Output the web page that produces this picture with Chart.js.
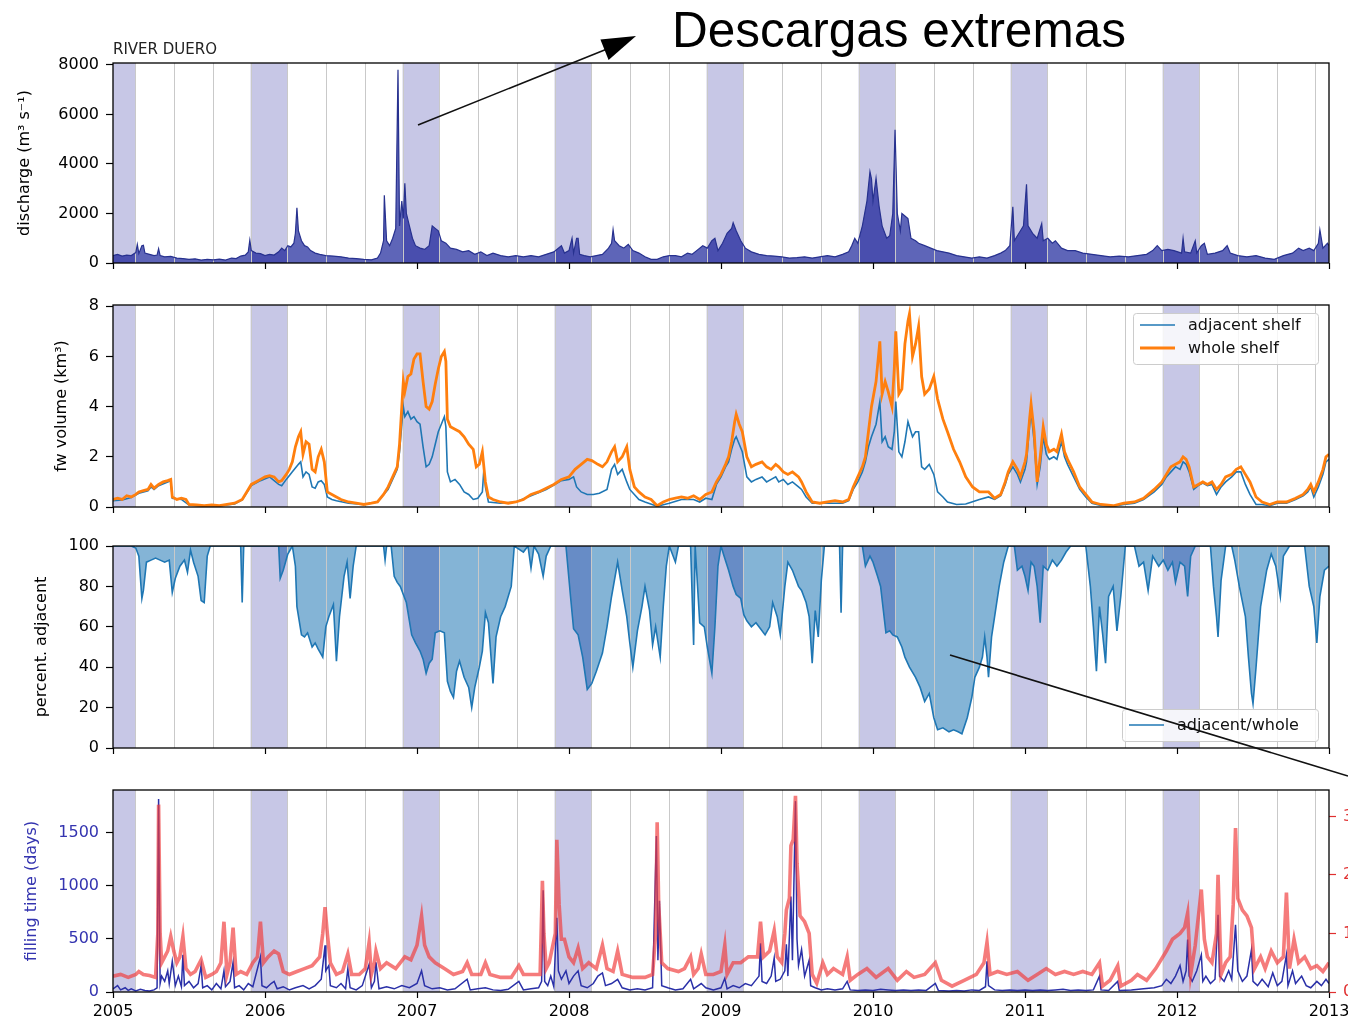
<!DOCTYPE html>
<html>
<head>
<meta charset="utf-8">
<title>River Duero – discharge and shelf freshwater</title>
<script src="https://cdn.jsdelivr.net/npm/chart.js@4.4.1/dist/chart.umd.min.js"></script>
<style>
  html, body { margin: 0; padding: 0; background: #fff; }
  #wrap { position: relative; width: 1348px; height: 1026px; overflow: hidden; background: #fff; }
  #wrap canvas { position: absolute; left: 0; }
  #overlay { position: absolute; left: 0; top: 0; pointer-events: none; }
</style>
</head>
<body>
<div id="wrap">
  <canvas id="cDischarge" width="1348" height="290" style="top:0px"></canvas>
  <canvas id="cVolume" width="1348" height="240" style="top:290px"></canvas>
  <canvas id="cPercent" width="1348" height="240" style="top:530px"></canvas>
  <canvas id="cFilling" width="1348" height="256" style="top:770px"></canvas>
  <svg id="overlay" width="1348" height="1026" xmlns="http://www.w3.org/2000/svg">
    <line x1="418" y1="125" x2="612" y2="47" stroke="#111" stroke-width="1.6"/>
    <polygon points="636,36 600.4,39.5 608.6,59.9" fill="#000"/>
    <line x1="950" y1="655" x2="1348" y2="776" stroke="#111" stroke-width="1.6"/>
    <text x="672" y="47" font-family="'Liberation Sans', Arial, sans-serif" font-size="49.5" fill="#000">Descargas extremas</text>
  </svg>
</div>
<script>
// ---------------------------------------------------------------------------
// Time axis (decimal years) and tick lists
// ---------------------------------------------------------------------------
const yearTicks = [2005, 2006, 2007, 2008, 2009, 2010, 2011, 2012, 2013];
const dischargeTicks = [0, 2000, 4000, 6000, 8000];
const volumeTicks = [0, 2, 4, 6, 8];
const percentTicks = [0, 20, 40, 60, 80, 100];
const fillingTicks = [0, 500, 1000, 1500];
const rateTicks = [0, 1, 2, 3];

// seasonal grid lines (fraction of year) and winter (DJF) shading
const seasonGridOffsets = [0.148, 0.40, 0.655, 0.905];
const winterBands = [
  [2004.905, 2005.148], [2005.905, 2006.148], [2006.905, 2007.148], [2007.905, 2008.148],
  [2008.905, 2009.148], [2009.905, 2010.148], [2010.905, 2011.148], [2011.905, 2012.148]
];

// ---------------------------------------------------------------------------
// River Duero discharge (m3 s-1)
// ---------------------------------------------------------------------------
const dischargeSeries = [
  [2005.00,300],[2005.03,350],[2005.06,280],[2005.09,320],[2005.12,300],[2005.15,420],[2005.16,750],[2005.17,380],
  [2005.19,700],[2005.20,720],[2005.21,400],[2005.24,350],[2005.27,300],[2005.29,320],[2005.30,580],[2005.31,300],
  [2005.34,250],[2005.38,270],[2005.42,200],[2005.46,180],[2005.50,150],[2005.54,170],[2005.58,120],[2005.62,150],
  [2005.66,130],[2005.70,160],[2005.74,120],[2005.78,200],[2005.81,180],[2005.84,280],[2005.87,320],[2005.89,450],
  [2005.90,920],[2005.91,500],[2005.94,400],[2005.97,380],[2006.00,300],[2006.03,350],[2006.06,320],[2006.09,450],
  [2006.11,600],[2006.13,500],[2006.15,700],[2006.17,650],[2006.19,800],[2006.20,1200],[2006.21,2230],[2006.22,1300],
  [2006.24,900],[2006.26,700],[2006.28,650],[2006.30,500],[2006.33,400],[2006.36,350],[2006.40,300],[2006.45,280],
  [2006.50,250],[2006.55,200],[2006.60,180],[2006.65,150],[2006.70,130],[2006.74,200],[2006.76,400],[2006.78,900],
  [2006.785,2740],[2006.80,900],[2006.82,700],[2006.84,1000],[2006.86,1400],[2006.875,7810],[2006.885,1500],[2006.90,2500],
  [2006.91,1800],[2006.92,3220],[2006.93,2000],[2006.95,1500],[2006.97,1000],[2006.99,700],[2007.02,600],[2007.05,550],
  [2007.08,700],[2007.10,1500],[2007.12,1400],[2007.14,1300],[2007.16,900],[2007.19,800],[2007.22,600],[2007.26,550],
  [2007.30,450],[2007.34,500],[2007.38,350],[2007.42,450],[2007.46,300],[2007.50,400],[2007.55,300],[2007.60,250],
  [2007.65,300],[2007.70,250],[2007.75,300],[2007.80,250],[2007.85,350],[2007.90,450],[2007.95,700],[2007.97,400],
  [2008.00,500],[2008.02,1000],[2008.03,400],[2008.05,1000],[2008.06,1000],[2008.07,350],[2008.10,300],[2008.14,250],
  [2008.18,300],[2008.22,350],[2008.26,600],[2008.28,800],[2008.29,1350],[2008.30,900],[2008.33,700],[2008.36,600],
  [2008.39,750],[2008.42,500],[2008.46,400],[2008.50,250],[2008.54,150],[2008.58,150],[2008.62,250],[2008.66,300],
  [2008.70,300],[2008.74,250],[2008.78,400],[2008.81,350],[2008.84,500],[2008.88,700],[2008.91,600],[2008.94,900],
  [2008.96,1000],[2008.98,500],[2009.01,800],[2009.04,1200],[2009.07,1400],[2009.08,1630],[2009.10,1300],[2009.13,900],
  [2009.16,600],[2009.20,450],[2009.25,350],[2009.30,300],[2009.35,280],[2009.40,250],[2009.45,200],[2009.50,220],
  [2009.55,250],[2009.60,200],[2009.65,250],[2009.70,300],[2009.75,250],[2009.80,350],[2009.84,450],[2009.86,700],
  [2009.88,1000],[2009.90,800],[2009.93,1500],[2009.96,2500],[2009.98,3690],[2009.99,3400],[2010.00,2500],[2010.02,3420],
  [2010.04,2300],[2010.06,1500],[2010.09,1000],[2010.11,1100],[2010.13,2000],[2010.145,5380],[2010.16,2000],[2010.18,1300],
  [2010.19,2000],[2010.21,1900],[2010.23,1800],[2010.25,1000],[2010.28,900],[2010.30,800],[2010.34,700],[2010.38,600],
  [2010.42,500],[2010.46,450],[2010.50,400],[2010.55,300],[2010.60,250],[2010.65,200],[2010.70,250],[2010.75,200],
  [2010.80,300],[2010.84,400],[2010.87,500],[2010.90,700],[2010.92,2270],[2010.93,900],[2010.96,1200],[2010.99,1500],
  [2011.01,3180],[2011.02,1500],[2011.05,1200],[2011.08,1000],[2011.11,1590],[2011.12,900],[2011.15,1000],[2011.18,800],
  [2011.20,900],[2011.24,600],[2011.28,500],[2011.33,500],[2011.38,400],[2011.44,350],[2011.50,300],[2011.56,250],
  [2011.62,280],[2011.68,250],[2011.74,300],[2011.80,350],[2011.84,500],[2011.87,700],[2011.90,500],[2011.94,550],
  [2011.98,500],[2012.03,400],[2012.04,1000],[2012.05,450],[2012.09,400],[2012.12,900],[2012.13,400],[2012.16,700],
  [2012.18,800],[2012.20,350],[2012.25,400],[2012.30,500],[2012.33,700],[2012.35,400],[2012.40,300],[2012.46,250],
  [2012.52,300],[2012.58,200],[2012.64,150],[2012.70,300],[2012.76,400],[2012.80,600],[2012.83,500],[2012.87,600],
  [2012.90,500],[2012.93,800],[2012.94,1340],[2012.96,600],[2012.99,800],[2013.00,700]
];

// ---------------------------------------------------------------------------
// Freshwater volume (km3): whole shelf and adjacent shelf
// ---------------------------------------------------------------------------
const wholeShelfVolume = [
  [2005.00,0.3],[2005.03,0.35],[2005.06,0.3],[2005.09,0.45],[2005.12,0.4],[2005.15,0.5],[2005.17,0.6],[2005.20,0.65],
  [2005.23,0.7],[2005.25,0.9],[2005.27,0.75],[2005.30,0.9],[2005.33,1.0],[2005.36,1.05],[2005.38,1.1],[2005.39,0.4],
  [2005.42,0.3],[2005.45,0.35],[2005.48,0.3],[2005.50,0.1],[2005.55,0.08],[2005.60,0.05],[2005.65,0.08],[2005.70,0.05],
  [2005.75,0.1],[2005.80,0.15],[2005.85,0.3],[2005.88,0.6],[2005.91,0.9],[2005.94,1.0],[2005.97,1.1],[2006.00,1.2],
  [2006.03,1.25],[2006.06,1.2],[2006.09,1.0],[2006.11,1.05],[2006.14,1.3],[2006.16,1.5],[2006.18,1.8],[2006.20,2.4],
  [2006.22,2.8],[2006.235,3.0],[2006.25,2.1],[2006.27,2.6],[2006.29,2.5],[2006.31,1.5],[2006.33,1.4],[2006.35,2.0],
  [2006.37,2.3],[2006.39,1.8],[2006.41,0.6],[2006.44,0.5],[2006.47,0.4],[2006.50,0.3],[2006.55,0.2],[2006.60,0.15],
  [2006.65,0.1],[2006.70,0.15],[2006.74,0.2],[2006.78,0.5],[2006.81,0.8],[2006.84,1.2],[2006.87,1.6],[2006.885,2.5],
  [2006.90,4.0],[2006.91,5.0],[2006.92,4.6],[2006.94,5.2],[2006.96,5.3],[2006.98,5.9],[2007.00,6.1],[2007.02,6.1],
  [2007.04,5.0],[2007.06,4.0],[2007.08,3.9],[2007.10,4.2],[2007.12,4.9],[2007.14,5.5],[2007.16,6.0],[2007.18,6.2],
  [2007.19,5.8],[2007.20,3.5],[2007.22,3.2],[2007.25,3.1],[2007.28,3.0],[2007.31,2.8],[2007.34,2.5],[2007.37,2.3],
  [2007.39,1.6],[2007.41,1.7],[2007.43,2.2],[2007.45,1.0],[2007.47,0.4],[2007.50,0.3],[2007.55,0.2],[2007.60,0.15],
  [2007.65,0.2],[2007.70,0.3],[2007.75,0.5],[2007.80,0.6],[2007.85,0.75],[2007.90,0.9],[2007.95,1.1],[2008.00,1.2],
  [2008.04,1.5],[2008.08,1.7],[2008.12,1.9],[2008.15,1.85],[2008.19,1.7],[2008.22,1.6],[2008.25,1.8],[2008.28,2.2],
  [2008.30,2.4],[2008.32,1.8],[2008.35,2.0],[2008.38,2.4],[2008.40,1.5],[2008.43,0.8],[2008.46,0.6],[2008.50,0.4],
  [2008.54,0.3],[2008.58,0.05],[2008.62,0.2],[2008.66,0.3],[2008.70,0.35],[2008.74,0.4],[2008.78,0.35],[2008.82,0.45],
  [2008.86,0.3],[2008.90,0.5],[2008.94,0.6],[2008.97,1.0],[2009.00,1.3],[2009.03,1.7],[2009.05,2.0],[2009.07,2.6],
  [2009.09,3.4],[2009.10,3.7],[2009.12,3.3],[2009.14,3.0],[2009.17,2.0],[2009.20,1.6],[2009.23,1.7],[2009.27,1.8],
  [2009.30,1.6],[2009.33,1.5],[2009.36,1.7],[2009.38,1.6],[2009.41,1.4],[2009.44,1.3],[2009.47,1.4],[2009.51,1.2],
  [2009.53,1.0],[2009.56,0.6],[2009.60,0.2],[2009.65,0.15],[2009.70,0.2],[2009.75,0.25],[2009.80,0.2],[2009.84,0.3],
  [2009.87,0.8],[2009.90,1.2],[2009.93,1.6],[2009.95,2.0],[2009.97,3.0],[2009.99,4.0],[2010.02,5.0],[2010.045,6.6],
  [2010.06,4.5],[2010.08,5.0],[2010.10,4.6],[2010.125,4.0],[2010.14,5.5],[2010.15,7.0],[2010.17,4.5],[2010.19,4.7],
  [2010.21,6.5],[2010.23,7.4],[2010.24,7.7],[2010.26,6.0],[2010.28,6.5],[2010.30,7.2],[2010.32,5.2],[2010.34,4.5],
  [2010.37,4.7],[2010.40,5.2],[2010.425,4.3],[2010.46,3.5],[2010.49,3.0],[2010.53,2.3],[2010.57,1.8],[2010.61,1.2],
  [2010.655,0.8],[2010.70,0.6],[2010.76,0.6],[2010.80,0.35],[2010.84,0.5],[2010.87,1.0],[2010.89,1.4],[2010.92,1.8],
  [2010.95,1.5],[2010.97,1.2],[2011.00,1.8],[2011.01,2.1],[2011.03,3.5],[2011.04,4.1],[2011.06,3.0],[2011.08,1.0],
  [2011.10,2.0],[2011.12,3.2],[2011.14,2.5],[2011.16,2.2],[2011.19,2.3],[2011.21,2.2],[2011.24,2.9],[2011.26,2.2],
  [2011.28,1.9],[2011.32,1.4],[2011.36,0.8],[2011.40,0.5],[2011.44,0.2],[2011.50,0.1],[2011.58,0.05],[2011.65,0.15],
  [2011.72,0.2],[2011.78,0.35],[2011.85,0.7],[2011.90,1.0],[2011.93,1.3],[2011.96,1.6],[2011.99,1.7],[2012.02,1.8],
  [2012.04,2.0],[2012.06,1.9],[2012.08,1.6],[2012.11,0.8],[2012.14,0.9],[2012.17,1.0],[2012.20,0.9],[2012.23,1.0],
  [2012.26,0.7],[2012.29,0.9],[2012.32,1.2],[2012.36,1.3],[2012.39,1.5],[2012.42,1.6],[2012.45,1.3],[2012.48,1.0],
  [2012.52,0.4],[2012.56,0.2],[2012.61,0.1],[2012.66,0.2],[2012.72,0.2],[2012.78,0.35],[2012.83,0.5],[2012.86,0.7],
  [2012.88,0.9],[2012.90,0.6],[2012.93,1.0],[2012.96,1.5],[2012.98,2.0],[2013.00,2.1]
];

const adjacentShelfVolume = [
  [2005.00,0.25],[2005.06,0.28],[2005.12,0.38],[2005.17,0.55],[2005.23,0.65],[2005.25,0.8],[2005.27,0.7],[2005.30,0.85],
  [2005.36,1.0],[2005.38,1.05],[2005.39,0.35],[2005.45,0.3],[2005.50,0.08],[2005.60,0.05],[2005.70,0.05],[2005.80,0.12],
  [2005.85,0.28],[2005.91,0.85],[2005.97,1.05],[2006.03,1.2],[2006.09,0.9],[2006.11,0.85],[2006.14,1.1],[2006.18,1.4],
  [2006.22,1.7],[2006.235,1.8],[2006.25,1.2],[2006.27,1.4],[2006.29,1.3],[2006.31,0.8],[2006.33,0.75],[2006.35,1.0],
  [2006.37,1.05],[2006.39,0.9],[2006.41,0.4],[2006.44,0.3],[2006.47,0.25],[2006.55,0.15],[2006.65,0.1],[2006.74,0.2],
  [2006.81,0.7],[2006.87,1.5],[2006.885,2.2],[2006.90,3.3],[2006.91,4.0],[2006.92,3.6],[2006.94,3.8],[2006.96,3.5],
  [2006.98,3.6],[2007.00,3.4],[2007.02,3.3],[2007.04,2.4],[2007.06,1.6],[2007.08,1.7],[2007.10,2.0],[2007.12,2.5],
  [2007.14,3.0],[2007.16,3.3],[2007.18,3.6],[2007.19,3.2],[2007.20,1.4],[2007.22,1.0],[2007.25,1.1],[2007.28,0.9],
  [2007.31,0.6],[2007.34,0.5],[2007.37,0.3],[2007.40,0.35],[2007.43,0.6],[2007.44,1.5],[2007.45,0.8],[2007.47,0.2],
  [2007.55,0.15],[2007.65,0.2],[2007.75,0.45],[2007.85,0.7],[2007.95,1.05],[2008.00,1.1],[2008.03,1.2],[2008.05,0.8],
  [2008.08,0.6],[2008.12,0.5],[2008.16,0.5],[2008.20,0.55],[2008.25,0.7],[2008.28,1.5],[2008.30,1.7],[2008.32,1.3],
  [2008.35,1.5],[2008.38,1.0],[2008.40,0.7],[2008.43,0.5],[2008.46,0.3],[2008.50,0.2],[2008.58,0.03],[2008.66,0.15],
  [2008.74,0.3],[2008.82,0.3],[2008.86,0.2],[2008.90,0.35],[2008.94,0.3],[2008.97,0.9],[2009.00,1.2],[2009.03,1.6],
  [2009.05,1.8],[2009.07,2.3],[2009.09,2.7],[2009.10,2.8],[2009.12,2.5],[2009.14,2.2],[2009.17,1.2],[2009.20,1.0],
  [2009.23,1.1],[2009.27,1.2],[2009.30,1.0],[2009.33,1.1],[2009.36,1.2],[2009.38,1.0],[2009.41,1.1],[2009.44,0.9],
  [2009.47,1.0],[2009.51,0.8],[2009.53,0.7],[2009.56,0.4],[2009.60,0.15],[2009.70,0.15],[2009.80,0.15],[2009.84,0.25],
  [2009.87,0.7],[2009.90,1.0],[2009.93,1.4],[2009.95,1.8],[2009.97,2.4],[2009.99,2.8],[2010.02,3.3],[2010.045,4.2],
  [2010.06,2.6],[2010.08,2.8],[2010.10,2.4],[2010.125,2.3],[2010.14,3.0],[2010.15,4.2],[2010.17,2.2],[2010.19,2.0],
  [2010.21,2.6],[2010.23,3.4],[2010.24,3.2],[2010.26,2.8],[2010.28,3.0],[2010.30,3.0],[2010.32,1.6],[2010.34,1.5],
  [2010.37,1.7],[2010.40,1.3],[2010.425,0.6],[2010.46,0.4],[2010.49,0.2],[2010.55,0.1],[2010.61,0.12],[2010.65,0.2],
  [2010.70,0.3],[2010.76,0.4],[2010.80,0.3],[2010.84,0.45],[2010.87,0.9],[2010.89,1.3],[2010.92,1.6],[2010.95,1.3],
  [2010.97,1.0],[2011.00,1.5],[2011.01,1.8],[2011.03,3.2],[2011.04,3.8],[2011.06,2.6],[2011.08,0.9],[2011.10,1.6],
  [2011.12,2.8],[2011.14,2.1],[2011.16,1.9],[2011.19,2.0],[2011.21,1.9],[2011.24,2.6],[2011.26,2.0],[2011.28,1.7],
  [2011.32,1.2],[2011.36,0.7],[2011.40,0.4],[2011.44,0.15],[2011.50,0.06],[2011.58,0.03],[2011.65,0.1],[2011.72,0.15],
  [2011.78,0.3],[2011.85,0.6],[2011.90,0.9],[2011.93,1.2],[2011.96,1.4],[2011.99,1.6],[2012.02,1.5],[2012.04,1.8],
  [2012.06,1.7],[2012.08,1.4],[2012.11,0.7],[2012.14,0.85],[2012.17,0.95],[2012.20,0.85],[2012.23,0.9],[2012.26,0.5],
  [2012.29,0.8],[2012.32,1.0],[2012.36,1.2],[2012.39,1.4],[2012.42,1.4],[2012.45,0.9],[2012.48,0.5],[2012.52,0.1],
  [2012.56,0.1],[2012.61,0.05],[2012.66,0.15],[2012.72,0.15],[2012.78,0.3],[2012.83,0.45],[2012.86,0.6],[2012.88,0.8],
  [2012.90,0.4],[2012.93,0.8],[2012.96,1.3],[2012.98,1.8],[2013.00,1.9]
];

// ---------------------------------------------------------------------------
// Percentage of the freshwater found on the adjacent shelf
// ---------------------------------------------------------------------------
const adjacentPercent = [
  [2005.00,100],[2005.12,100],[2005.15,99],[2005.17,95],[2005.19,74],[2005.20,78],[2005.22,92],[2005.25,93],
  [2005.28,94],[2005.31,93],[2005.34,92],[2005.37,93],[2005.39,77],[2005.41,84],[2005.44,90],[2005.47,93],
  [2005.49,87],[2005.51,98],[2005.53,92],[2005.56,85],[2005.58,73],[2005.60,72],[2005.62,95],[2005.64,100],
  [2005.84,100],[2005.85,72],[2005.86,100],[2006.09,100],[2006.10,84],[2006.12,88],[2006.15,96],[2006.18,100],
  [2006.20,90],[2006.21,70],[2006.24,56],[2006.26,55],[2006.28,57],[2006.31,50],[2006.33,52],[2006.35,49],
  [2006.38,45],[2006.40,60],[2006.42,65],[2006.45,71],[2006.47,43],[2006.49,65],[2006.52,85],[2006.54,92],
  [2006.56,74],[2006.58,90],[2006.60,100],[2006.78,100],[2006.79,93],[2006.80,100],[2006.83,100],[2006.85,85],
  [2006.87,82],[2006.89,80],[2006.91,76],[2006.93,72],[2006.965,56],[2006.99,52],[2007.02,48],[2007.04,44],
  [2007.06,37],[2007.08,42],[2007.10,44],[2007.12,57],[2007.15,58],[2007.18,57],[2007.20,33],[2007.22,28],
  [2007.24,25],[2007.26,38],[2007.28,43],[2007.31,35],[2007.34,30],[2007.36,20],[2007.38,30],[2007.41,40],
  [2007.43,48],[2007.45,67],[2007.47,62],[2007.50,32],[2007.52,55],[2007.55,65],[2007.58,70],[2007.62,80],
  [2007.64,100],[2007.70,97],[2007.73,100],[2007.75,89],[2007.77,100],[2007.80,96],[2007.83,85],[2007.85,95],
  [2007.88,100],[2007.98,100],[2008.01,75],[2008.03,59],[2008.06,56],[2008.09,45],[2008.12,29],[2008.15,32],
  [2008.18,38],[2008.22,47],[2008.25,60],[2008.28,75],[2008.32,92],[2008.35,78],[2008.38,65],[2008.40,52],
  [2008.42,40],[2008.45,58],[2008.48,70],[2008.50,80],[2008.53,68],[2008.55,51],[2008.57,60],[2008.60,45],
  [2008.62,70],[2008.64,90],[2008.66,100],[2008.70,92],[2008.72,100],[2008.80,100],[2008.82,51],[2008.83,100],
  [2008.86,62],[2008.89,60],[2008.91,50],[2008.94,37],[2008.96,60],[2008.98,90],[2009.00,100],[2009.02,95],
  [2009.05,88],[2009.08,80],[2009.10,76],[2009.13,74],[2009.15,66],[2009.17,63],[2009.20,60],[2009.23,62],
  [2009.26,59],[2009.29,56],[2009.32,60],[2009.34,72],[2009.37,65],[2009.39,56],[2009.42,80],[2009.44,92],
  [2009.47,88],[2009.51,80],[2009.53,78],[2009.56,72],[2009.58,65],[2009.60,42],[2009.62,68],[2009.64,55],
  [2009.66,83],[2009.68,100],[2009.78,100],[2009.79,67],[2009.80,100],[2009.93,100],[2009.95,90],[2009.98,95],
  [2010.00,92],[2010.03,85],[2010.05,80],[2010.085,57],[2010.11,58],[2010.13,56],[2010.16,55],[2010.19,50],
  [2010.21,45],[2010.24,40],[2010.28,35],[2010.31,30],[2010.34,23],[2010.37,27],[2010.40,15],[2010.425,9],
  [2010.46,10],[2010.50,8],[2010.53,9],[2010.56,8],[2010.585,7],[2010.62,15],[2010.65,25],[2010.67,35],
  [2010.70,40],[2010.72,45],[2010.735,55],[2010.75,45],[2010.76,35],[2010.78,55],[2010.81,70],[2010.83,80],
  [2010.86,92],[2010.89,100],[2010.93,100],[2010.95,88],[2010.98,90],[2011.00,85],[2011.02,78],[2011.04,92],
  [2011.06,90],[2011.08,80],[2011.10,62],[2011.12,90],[2011.15,88],[2011.18,93],[2011.21,90],[2011.24,93],
  [2011.27,97],[2011.30,100],[2011.40,100],[2011.43,80],[2011.45,60],[2011.47,38],[2011.49,70],[2011.51,57],
  [2011.53,42],[2011.55,75],[2011.58,80],[2011.605,58],[2011.63,75],[2011.66,100],[2011.72,100],[2011.75,90],
  [2011.78,92],[2011.81,78],[2011.84,95],[2011.88,90],[2011.91,93],[2011.94,88],[2011.97,92],[2011.99,82],
  [2012.02,92],[2012.05,90],[2012.07,75],[2012.09,95],[2012.12,100],[2012.22,100],[2012.24,80],[2012.26,65],
  [2012.27,55],[2012.29,83],[2012.32,100],[2012.36,100],[2012.38,93],[2012.41,80],[2012.45,65],[2012.47,45],
  [2012.49,27],[2012.50,22],[2012.52,40],[2012.55,70],[2012.59,88],[2012.62,96],[2012.65,90],[2012.68,75],
  [2012.70,95],[2012.74,100],[2012.84,100],[2012.87,80],[2012.90,70],[2012.92,52],[2012.94,75],[2012.97,88],
  [2013.00,90]
];

// ---------------------------------------------------------------------------
// Filling time (days, left axis) and the companion rate series (right axis)
// ---------------------------------------------------------------------------
const fillingTimeDays = [
  [2005.00,30],[2005.03,60],[2005.05,20],[2005.08,40],[2005.10,15],[2005.12,30],[2005.15,10],[2005.18,25],
  [2005.21,15],[2005.24,10],[2005.27,20],[2005.29,40],[2005.30,1820],[2005.31,80],[2005.32,150],[2005.34,100],
  [2005.36,200],[2005.37,80],[2005.39,290],[2005.41,60],[2005.43,150],[2005.45,50],[2005.46,350],[2005.47,60],
  [2005.50,100],[2005.53,40],[2005.56,80],[2005.58,250],[2005.59,40],[2005.62,60],[2005.65,20],[2005.68,80],
  [2005.71,30],[2005.73,200],[2005.74,50],[2005.77,100],[2005.79,280],[2005.80,40],[2005.83,60],[2005.86,20],
  [2005.89,80],[2005.92,50],[2005.97,330],[2005.98,60],[2006.01,40],[2006.04,80],[2006.06,100],[2006.08,30],
  [2006.12,50],[2006.16,20],[2006.20,40],[2006.25,60],[2006.29,30],[2006.33,60],[2006.37,120],[2006.395,440],
  [2006.40,200],[2006.42,250],[2006.43,60],[2006.47,40],[2006.50,80],[2006.53,30],[2006.545,220],[2006.56,40],
  [2006.60,20],[2006.64,60],[2006.685,260],[2006.70,40],[2006.72,100],[2006.73,280],[2006.75,30],[2006.80,50],
  [2006.85,30],[2006.90,60],[2006.95,40],[2007.00,80],[2007.03,200],[2007.05,60],[2007.10,30],[2007.15,40],
  [2007.20,20],[2007.25,30],[2007.33,120],[2007.35,20],[2007.40,30],[2007.45,40],[2007.50,20],[2007.55,15],
  [2007.60,25],[2007.67,100],[2007.70,20],[2007.75,30],[2007.80,40],[2007.82,100],[2007.83,960],[2007.84,100],
  [2007.86,60],[2007.88,150],[2007.90,50],[2007.92,700],[2007.93,200],[2007.95,120],[2007.98,200],[2008.00,80],
  [2008.03,150],[2008.06,200],[2008.08,60],[2008.12,40],[2008.16,80],[2008.19,150],[2008.22,180],[2008.24,60],
  [2008.28,80],[2008.32,120],[2008.35,40],[2008.40,20],[2008.45,30],[2008.50,20],[2008.55,40],[2008.575,1470],
  [2008.585,300],[2008.595,860],[2008.61,60],[2008.65,40],[2008.70,20],[2008.75,30],[2008.80,120],[2008.82,30],
  [2008.87,80],[2008.90,40],[2008.95,20],[2009.00,40],[2009.025,130],[2009.04,30],[2009.08,60],[2009.12,40],
  [2009.16,80],[2009.20,60],[2009.25,150],[2009.26,460],[2009.27,100],[2009.30,80],[2009.33,150],[2009.35,320],
  [2009.36,100],[2009.39,120],[2009.42,200],[2009.43,450],[2009.44,150],[2009.46,900],[2009.47,300],[2009.49,1800],
  [2009.50,500],[2009.51,250],[2009.53,400],[2009.55,150],[2009.58,300],[2009.59,60],[2009.62,40],[2009.66,20],
  [2009.70,30],[2009.75,20],[2009.80,30],[2009.83,100],[2009.85,20],[2009.90,15],[2009.95,20],[2010.00,15],
  [2010.05,25],[2010.10,20],[2010.15,15],[2010.20,20],[2010.25,15],[2010.30,20],[2010.35,15],[2010.41,80],
  [2010.43,15],[2010.50,10],[2010.55,15],[2010.60,10],[2010.65,20],[2010.70,15],[2010.74,50],[2010.75,290],
  [2010.76,60],[2010.80,20],[2010.85,15],[2010.90,20],[2010.95,15],[2011.00,20],[2011.05,15],[2011.10,20],
  [2011.15,15],[2011.20,20],[2011.25,25],[2011.30,15],[2011.35,20],[2011.40,15],[2011.45,20],[2011.49,150],
  [2011.50,20],[2011.55,15],[2011.61,100],[2011.62,15],[2011.70,20],[2011.78,30],[2011.85,40],[2011.90,60],
  [2011.93,120],[2011.96,80],[2011.99,150],[2012.02,250],[2012.04,100],[2012.06,200],[2012.07,494],[2012.08,150],
  [2012.10,100],[2012.13,200],[2012.16,350],[2012.17,100],[2012.19,150],[2012.22,80],[2012.25,120],[2012.27,728],
  [2012.28,150],[2012.31,100],[2012.34,200],[2012.36,120],[2012.385,634],[2012.40,200],[2012.43,100],[2012.46,150],
  [2012.49,400],[2012.50,100],[2012.53,60],[2012.56,120],[2012.60,50],[2012.63,180],[2012.66,60],[2012.69,100],
  [2012.72,350],[2012.73,60],[2012.76,200],[2012.78,80],[2012.82,150],[2012.85,60],[2012.88,40],[2012.92,100],
  [2012.95,60],[2012.98,120],[2013.00,80]
];

const fillingRate = [
  [2005.00,0.27],[2005.05,0.3],[2005.10,0.25],[2005.15,0.3],[2005.17,0.35],[2005.20,0.3],[2005.24,0.28],[2005.28,0.25],
  [2005.295,1.0],[2005.30,3.2],[2005.31,1.0],[2005.32,0.5],[2005.34,0.6],[2005.36,0.7],[2005.38,0.95],[2005.40,0.7],
  [2005.42,0.5],[2005.44,0.6],[2005.46,0.95],[2005.48,0.4],[2005.51,0.3],[2005.54,0.35],[2005.58,0.55],[2005.61,0.25],
  [2005.65,0.3],[2005.68,0.35],[2005.71,0.5],[2005.73,1.2],[2005.75,0.3],[2005.77,0.5],[2005.79,1.1],[2005.81,0.3],
  [2005.84,0.35],[2005.88,0.3],[2005.92,0.5],[2005.95,0.6],[2005.97,1.2],[2005.99,0.5],[2006.02,0.6],[2006.06,0.7],
  [2006.09,0.65],[2006.12,0.35],[2006.16,0.3],[2006.21,0.35],[2006.26,0.4],[2006.31,0.45],[2006.36,0.6],[2006.38,1.0],
  [2006.395,1.45],[2006.41,1.0],[2006.43,0.5],[2006.47,0.3],[2006.51,0.35],[2006.545,0.65],[2006.57,0.3],[2006.62,0.3],
  [2006.66,0.4],[2006.685,0.85],[2006.70,0.3],[2006.72,0.5],[2006.73,0.7],[2006.76,0.4],[2006.80,0.5],[2006.86,0.4],
  [2006.92,0.6],[2006.96,0.55],[2007.00,0.8],[2007.03,1.3],[2007.05,0.8],[2007.08,0.6],[2007.12,0.5],[2007.18,0.4],
  [2007.24,0.3],[2007.30,0.35],[2007.33,0.5],[2007.36,0.3],[2007.42,0.3],[2007.45,0.5],[2007.48,0.3],[2007.55,0.25],
  [2007.62,0.25],[2007.67,0.45],[2007.70,0.3],[2007.76,0.3],[2007.81,0.3],[2007.825,1.9],[2007.835,1.0],[2007.85,0.4],
  [2007.87,0.5],[2007.91,1.0],[2007.92,2.6],[2007.935,1.5],[2007.95,0.9],[2007.97,0.9],[2008.00,0.6],[2008.03,0.5],
  [2008.06,0.75],[2008.09,0.4],[2008.13,0.5],[2008.18,0.4],[2008.22,0.8],[2008.25,0.4],[2008.29,0.35],[2008.32,0.7],
  [2008.35,0.3],[2008.42,0.25],[2008.50,0.25],[2008.55,0.3],[2008.57,1.0],[2008.58,2.9],[2008.59,1.5],[2008.61,0.5],
  [2008.65,0.4],[2008.72,0.35],[2008.76,0.4],[2008.80,0.6],[2008.82,0.3],[2008.85,0.4],[2008.87,0.65],[2008.90,0.3],
  [2008.95,0.3],[2009.00,0.35],[2009.025,0.8],[2009.04,0.3],[2009.08,0.5],[2009.13,0.5],[2009.18,0.6],[2009.24,0.6],
  [2009.26,1.2],[2009.28,0.6],[2009.32,0.7],[2009.35,1.05],[2009.37,0.6],[2009.40,0.5],[2009.42,1.0],[2009.43,1.4],
  [2009.45,1.6],[2009.46,2.5],[2009.475,2.6],[2009.49,3.35],[2009.50,2.2],[2009.52,1.3],[2009.55,1.2],[2009.58,1.0],
  [2009.60,0.3],[2009.63,0.15],[2009.67,0.5],[2009.70,0.3],[2009.74,0.4],[2009.80,0.3],[2009.83,0.6],[2009.85,0.2],
  [2009.90,0.3],[2009.96,0.4],[2010.02,0.25],[2010.10,0.4],[2010.16,0.2],[2010.22,0.35],[2010.27,0.25],[2010.34,0.3],
  [2010.41,0.5],[2010.45,0.2],[2010.52,0.1],[2010.60,0.2],[2010.68,0.3],[2010.73,0.5],[2010.75,0.85],[2010.77,0.3],
  [2010.82,0.35],[2010.88,0.3],[2010.95,0.35],[2011.02,0.2],[2011.08,0.3],[2011.14,0.4],[2011.20,0.3],[2011.26,0.35],
  [2011.32,0.3],[2011.38,0.35],[2011.44,0.3],[2011.49,0.5],[2011.51,0.1],[2011.56,0.2],[2011.61,0.45],[2011.63,0.1],
  [2011.70,0.2],[2011.74,0.3],[2011.80,0.2],[2011.86,0.4],[2011.93,0.7],[2011.97,0.9],[2012.02,1.0],[2012.05,1.1],
  [2012.07,1.35],[2012.09,0.3],[2012.12,0.8],[2012.16,1.75],[2012.18,0.9],[2012.20,0.6],[2012.23,0.5],[2012.26,1.0],
  [2012.27,2.0],[2012.29,0.3],[2012.32,0.5],[2012.35,0.6],[2012.37,1.5],[2012.385,2.8],[2012.40,1.6],[2012.43,1.4],
  [2012.46,1.3],[2012.49,1.1],[2012.51,0.4],[2012.55,0.6],[2012.58,0.4],[2012.62,0.7],[2012.66,0.5],[2012.70,0.6],
  [2012.72,1.7],[2012.74,0.4],[2012.77,0.9],[2012.80,0.5],[2012.84,0.6],[2012.88,0.4],[2012.92,0.45],[2012.96,0.35],
  [2013.00,0.5]
];

// ---------------------------------------------------------------------------
// Drawing helpers
// ---------------------------------------------------------------------------
const FONT = "'DejaVu Sans', 'Liberation Sans', sans-serif";
Chart.defaults.font.family = FONT;
Chart.defaults.font.size = 16;
Chart.defaults.color = '#000';

const pts = arr => arr.map(([x, y]) => ({ x, y }));

// per-panel extras: small title and legend box
const decorSettings = {
  cDischarge: { title: 'RIVER DUERO' },
  cVolume: { legend: { anchor: 'top', offset: 8, right: 11, width: 185, height: 51, first: 12, step: 23,
    items: [ { label: 'adjacent shelf', color: '#1f77b4', width: 1.6 },
             { label: 'whole shelf', color: '#ff7f0e', width: 2.8 } ] } },
  cPercent: { legend: { anchor: 'bottom', offset: 7, right: 11, width: 196, height: 32, first: 16, step: 0,
    items: [ { label: 'adjacent/whole', color: '#1f77b4', width: 1.6 } ] } },
  cFilling: {}
};

function drawSeasonGrid(chart) {
  const { ctx, chartArea: a, scales: { x } } = chart;
  ctx.save();
  ctx.strokeStyle = '#c9c9c9';
  ctx.lineWidth = 1;
  for (const yr of yearTicks) {
    for (const off of seasonGridOffsets) {
      const v = yr + off;
      if (v <= x.min || v >= x.max) continue;
      const px = Math.round(x.getPixelForValue(v)) + 0.5;
      ctx.beginPath(); ctx.moveTo(px, a.top); ctx.lineTo(px, a.bottom); ctx.stroke();
    }
  }
  ctx.restore();
}

function drawWinterBands(chart) {
  const { ctx, chartArea: a, scales: { x } } = chart;
  ctx.save();
  ctx.fillStyle = 'rgba(0, 0, 139, 0.22)';
  for (const [s, e] of winterBands) {
    const x1 = x.getPixelForValue(Math.max(s, x.min));
    const x2 = x.getPixelForValue(Math.min(e, x.max));
    if (x2 > x1) ctx.fillRect(x1, a.top, x2 - x1, a.bottom - a.top);
  }
  ctx.restore();
}

function drawFrame(chart) {
  const { ctx, chartArea: a } = chart;
  ctx.save();
  ctx.strokeStyle = '#000';
  ctx.lineWidth = 1.3;
  ctx.strokeRect(a.left, a.top, a.right - a.left, a.bottom - a.top);
  ctx.restore();
}

function drawLegendBox(chart, L) {
  const { ctx, chartArea: a } = chart;
  const x0 = a.right - L.right - L.width;
  const y0 = L.anchor === 'top' ? a.top + L.offset : a.bottom - L.offset - L.height;
  ctx.save();
  ctx.beginPath();
  ctx.roundRect(x0 + 0.5, y0 + 0.5, L.width, L.height, 3);
  ctx.fillStyle = 'rgba(255,255,255,0.82)';
  ctx.fill();
  ctx.strokeStyle = '#cccccc';
  ctx.lineWidth = 1;
  ctx.stroke();
  ctx.font = '16px ' + FONT;
  ctx.textBaseline = 'middle';
  ctx.textAlign = 'left';
  L.items.forEach((it, i) => {
    const yy = y0 + L.first + i * L.step;
    ctx.beginPath();
    ctx.moveTo(x0 + 7, yy); ctx.lineTo(x0 + 42, yy);
    ctx.strokeStyle = it.color; ctx.lineWidth = it.width; ctx.stroke();
    ctx.fillStyle = '#111';
    ctx.fillText(it.label, x0 + 55, yy + 1);
  });
  ctx.restore();
}

function drawSmallTitle(chart, text) {
  const { ctx, chartArea: a } = chart;
  ctx.save();
  ctx.font = '15px ' + FONT;
  ctx.fillStyle = '#222';
  ctx.textAlign = 'left';
  ctx.textBaseline = 'alphabetic';
  ctx.fillText(text, a.left, a.top - 9);
  ctx.restore();
}

// Area fills go first, then the winter shading and season grid, then the lines on top.
function drawBackdrop(chart) {
  drawWinterBands(chart);
  drawSeasonGrid(chart);
  chart.$backdropDone = true;
}

const panelDecor = {
  id: 'panelDecor',
  beforeDatasetsDraw(chart) { chart.$backdropDone = false; },
  beforeDatasetDraw(chart, args) {
    const d = chart.data.datasets[args.index];
    if (!d.areaOnly && !chart.$backdropDone) drawBackdrop(chart);
  },
  afterDatasetsDraw(chart) {
    if (!chart.$backdropDone) drawBackdrop(chart);
    drawFrame(chart);
    const s = decorSettings[chart.canvas.id] || {};
    if (s.legend) drawLegendBox(chart, s.legend);
    if (s.title) drawSmallTitle(chart, s.title);
  }
};

function xAxis(showLabels, height) {
  return {
    type: 'linear', min: 2005, max: 2013,
    afterBuildTicks: s => { s.ticks = yearTicks.map(v => ({ value: v })); },
    afterFit: s => { s.height = height; s.paddingLeft = 0; s.paddingRight = 0; },
    border: { display: false },
    grid: { display: true, drawOnChartArea: false, drawTicks: true, tickLength: 6, tickColor: '#000', tickWidth: 1.2 },
    ticks: { display: showLabels, autoSkip: false, maxRotation: 0, padding: 4, color: '#000',
             font: { size: 16 }, callback: v => String(v) }
  };
}

function yAxis(cfg) {
  return {
    type: 'linear', position: cfg.position || 'left', min: 0, max: cfg.max,
    afterBuildTicks: s => { s.ticks = cfg.ticks.map(v => ({ value: v })); },
    afterFit: s => { s.width = cfg.width; s.paddingTop = 0; s.paddingBottom = 0; },
    border: { display: false },
    grid: { display: true, drawOnChartArea: false, drawTicks: true, tickLength: 7,
            tickColor: cfg.tickColor || '#000', tickWidth: 1.2 },
    ticks: { padding: 7, color: cfg.color || '#000', font: { size: 16 }, callback: v => String(v) },
    title: cfg.title ? { display: true, text: cfg.title, color: cfg.color || '#000',
                         font: { size: 16 }, padding: { top: cfg.titlePad, bottom: 0 } } : { display: false }
  };
}

function baseOptions(padTop, padRight, scales) {
  return {
    responsive: false, animation: false, events: [],
    layout: { padding: { top: padTop, right: padRight, left: 0, bottom: 0 } },
    plugins: { legend: { display: false }, tooltip: { enabled: false }, title: { display: false } },
    elements: { point: { radius: 0 }, line: { tension: 0 } },
    scales
  };
}

// ---------------------------------------------------------------------------
// Panel 1: discharge
// ---------------------------------------------------------------------------
new Chart(document.getElementById('cDischarge'), {
  type: 'line',
  data: { datasets: [
    { label: 'discharge', data: pts(dischargeSeries), borderColor: '#27318f', borderWidth: 1.2,
      fill: false, order: 1 },
    { label: 'discharge area', data: pts(dischargeSeries), borderWidth: 0, borderColor: 'rgba(0,0,0,0)',
      backgroundColor: 'rgba(40, 50, 160, 0.75)', fill: 'origin', order: 10, areaOnly: true }
  ] },
  options: baseOptions(63, 19, {
    x: xAxis(false, 27),
    y: yAxis({ max: 8080, ticks: dischargeTicks, width: 113, title: 'discharge (m³ s⁻¹)', titlePad: 15 })
  }),
  plugins: [panelDecor]
});

// ---------------------------------------------------------------------------
// Panel 2: freshwater volume
// ---------------------------------------------------------------------------
new Chart(document.getElementById('cVolume'), {
  type: 'line',
  data: { datasets: [
    { label: 'adjacent shelf', data: pts(adjacentShelfVolume), borderColor: '#1f77b4', borderWidth: 1.6, fill: false, order: 2 },
    { label: 'whole shelf', data: pts(wholeShelfVolume), borderColor: '#ff7f0e', borderWidth: 2.8, fill: false, order: 1 }
  ] },
  options: baseOptions(15, 19, {
    x: xAxis(false, 23),
    y: yAxis({ max: 8.05, ticks: volumeTicks, width: 113, title: 'fw volume (km³)', titlePad: 52 })
  }),
  plugins: [panelDecor]
});

// ---------------------------------------------------------------------------
// Panel 3: percentage on the adjacent shelf (shaded from the curve up to 100 %)
// ---------------------------------------------------------------------------
new Chart(document.getElementById('cPercent'), {
  type: 'line',
  data: { datasets: [
    { label: 'adjacent/whole', data: pts(adjacentPercent), borderColor: '#1f77b4', borderWidth: 1.6,
      fill: false, order: 1 },
    { label: 'adjacent/whole area', data: pts(adjacentPercent), borderWidth: 0, borderColor: 'rgba(0,0,0,0)',
      backgroundColor: 'rgba(31, 119, 180, 0.55)', fill: 'end', order: 10, areaOnly: true }
  ] },
  options: baseOptions(16, 19, {
    x: xAxis(false, 22),
    y: yAxis({ max: 100, ticks: percentTicks, width: 113, title: 'percent. adjacent', titlePad: 32 })
  }),
  plugins: [panelDecor]
});

// ---------------------------------------------------------------------------
// Panel 4: filling time (left) and rate (right)
// ---------------------------------------------------------------------------
new Chart(document.getElementById('cFilling'), {
  type: 'line',
  data: { datasets: [
    { label: 'filling time', data: pts(fillingTimeDays), yAxisID: 'y', borderColor: '#2a30a8', borderWidth: 1.5,
      fill: false, order: 2 },
    { label: 'rate', data: pts(fillingRate), yAxisID: 'y2', borderColor: 'rgba(240, 60, 60, 0.68)', borderWidth: 3.6,
      fill: false, order: 1 }
  ] },
  options: baseOptions(20, 0, {
    x: xAxis(true, 34),
    y: yAxis({ max: 1905, ticks: fillingTicks, width: 113, title: 'filling time (days)', titlePad: 22,
               color: '#3434b0', tickColor: '#000' }),
    y2: yAxis({ position: 'right', max: 3.45, ticks: rateTicks, width: 19, color: '#e03030', tickColor: '#e03030' })
  }),
  plugins: [panelDecor]
});
</script>
</body>
</html>
